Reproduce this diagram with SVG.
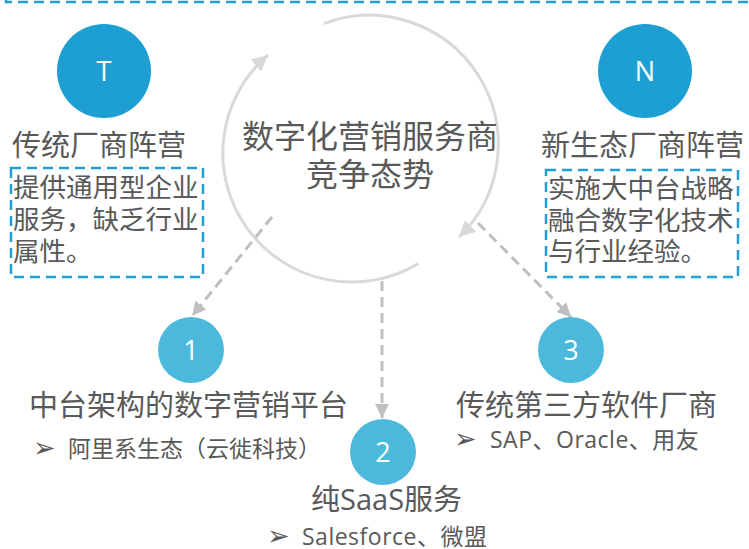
<svg xmlns="http://www.w3.org/2000/svg" width="749" height="549" viewBox="0 0 749 549">
<style>
text{font-family:"Open Sans","Noto Sans CJK SC",sans-serif;fill:#595959}
.title{font-size:29px}
.box{font-size:26.5px}
.sub{font-size:23px}
.bul{font-size:27px;font-family:"DejaVu Sans",sans-serif;fill:#595959}
.num{font-size:27px;fill:#fff;text-anchor:middle}
.dbox{fill:none;stroke:#1f9fd6;stroke-width:2.5;stroke-dasharray:10 6}
.arc{fill:none;stroke:#d9d9d9;stroke-width:3}
.conn{fill:none;stroke:#bfbfbf;stroke-width:3;stroke-dasharray:10 6}
.big{fill:#1e9fd4}
.small{fill:#4cb9dc}
</style>
<defs>
<marker id="ah" markerUnits="userSpaceOnUse" markerWidth="18" markerHeight="18" refX="16" refY="8" orient="auto"><path d="M0,0 L16,8 L0,16 z" fill="#d9d9d9"/></marker>
<marker id="ch" markerUnits="userSpaceOnUse" markerWidth="16" markerHeight="16" refX="14" refY="7" orient="auto"><path d="M0,0 L14,7 L0,14 z" fill="#bfbfbf"/></marker>
</defs>
<rect x="6" y="-20" width="760" height="22" class="dbox"/>
<g id="connectors">
<path class="arc" d="M 418.3 263.6 A 129 129 0 0 1 268 55" marker-end="url(#ah)"/>
<path class="arc" d="M 323.8 23.6 A 129 129 0 0 1 459 237" marker-end="url(#ah)"/>
<path class="conn" d="M272 217 L192 316" marker-end="url(#ch)"/>
<path class="conn" d="M382 281 L382 418" marker-end="url(#ch)"/>
<path class="conn" d="M478 223 L571 317" marker-end="url(#ch)"/>
</g>
<g id="center">
<text x="370" y="148" font-size="32" text-anchor="middle">数字化营销服务商</text>
<text x="370" y="186" font-size="32" text-anchor="middle">竞争态势</text>
</g>
<g id="nodeT">
<circle cx="104" cy="71" r="47" class="big"/>
<text x="104" y="81" class="num">T</text>
<text x="12" y="156" class="title">传统厂商阵营</text>
<rect x="11" y="168" width="192" height="109" class="dbox"/>
<text x="13" y="197" class="box">提供通用型企业</text>
<text x="13" y="229" class="box">服务，缺乏行业</text>
<text x="13" y="261" class="box">属性。</text>
</g>
<g id="nodeN">
<circle cx="645" cy="71" r="47" class="big"/>
<text x="645" y="81" class="num">N</text>
<text x="541" y="156" class="title">新生态厂商阵营</text>
<rect x="546" y="170" width="192" height="107" class="dbox"/>
<text x="548" y="198" class="box">实施大中台战略</text>
<text x="548" y="230" class="box">融合数字化技术</text>
<text x="548" y="261" class="box">与行业经验。</text>
</g>
<g id="node1">
<circle cx="191" cy="350" r="33" class="small"/>
<text x="191" y="360" class="num">1</text>
<text x="29" y="416" class="title">中台架构的数字营销平台</text>
<text x="33" y="457" class="bul">➢</text>
<text x="68" y="457" class="sub">阿里系生态（云徙科技）</text>
</g>
<g id="node2">
<circle cx="383" cy="452" r="33" class="small"/>
<text x="383" y="462" class="num">2</text>
<text x="311" y="510" class="title">纯SaaS服务</text>
<text x="267" y="545" class="bul">➢</text>
<text x="302" y="545" class="sub" letter-spacing="0.5">Salesforce、微盟</text>
</g>
<g id="node3">
<circle cx="571" cy="350" r="33" class="small"/>
<text x="571" y="360" class="num">3</text>
<text x="456" y="416" class="title">传统第三方软件厂商</text>
<text x="454" y="448" class="bul">➢</text>
<text x="490" y="448" class="sub" letter-spacing="0.5">SAP、Oracle、用友</text>
</g>
</svg>
